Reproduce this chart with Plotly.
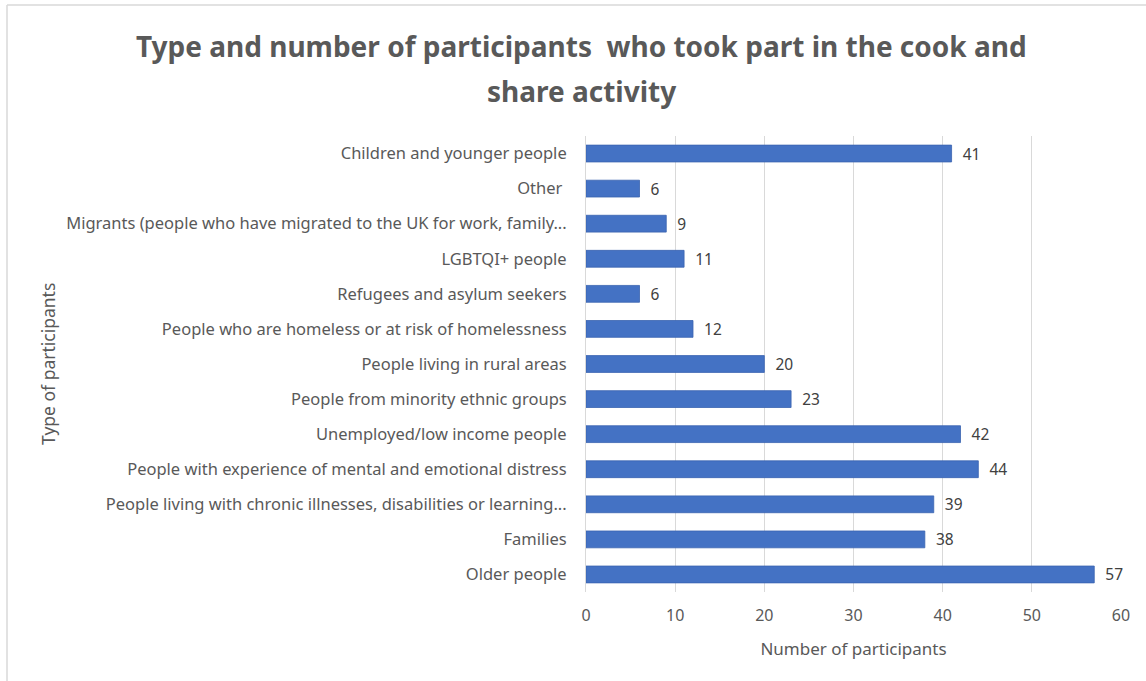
import plotly.graph_objects as go

# Participant groups, listed top to bottom as shown on the chart
categories = [
    "Children and younger people",
    "Other ",
    "Migrants (people who have migrated to the UK for work, family...",
    "LGBTQI+ people",
    "Refugees and asylum seekers",
    "People who are homeless or at risk of homelessness",
    "People living in rural areas",
    "People from minority ethnic groups",
    "Unemployed/low income people",
    "People with experience of mental and emotional distress",
    "People living with chronic illnesses, disabilities or learning...",
    "Families",
    "Older people",
]
participants = [41, 6, 9, 11, 6, 12, 20, 23, 42, 44, 39, 38, 57]
x_ticks = [0, 10, 20, 30, 40, 50, 60]
title_lines = [
    "Type and number of participants  who took part in the cook and",
    "share activity",
]

TEXT = "#595959"
FONT = "Noto Sans"

# plot area in pixels, used to place the free-floating texts
PL, PR, PT, PB = 586, 1121, 136, 592


def px_x(x):
    return (x - PL) / (PR - PL)


def px_y(y):
    return (PB - y) / (PB - PT)


fig = go.Figure(
    go.Bar(
        x=participants,
        y=categories,
        orientation="h",
        marker=dict(color="#4472C4", line=dict(color="#3A63B0", width=0.8)),
        texttemplate="  %{x}",
        textposition="outside",
        constraintext="none",
        textfont=dict(family=FONT, size=15.5, color="#404040"),
        cliponaxis=False,
        hoverinfo="x+y",
    )
)

annotations = [
    dict(
        text="Type of participants",
        xref="paper", yref="paper",
        x=px_x(48), y=0.5,
        xanchor="center", yanchor="middle",
        textangle=-90, showarrow=False,
        font=dict(family=FONT, size=17.5, color=TEXT),
    )
]
for line, yc in zip(title_lines, [46, 91]):
    annotations.append(
        dict(
            text="<b>" + line + "</b>",
            xref="paper", yref="paper",
            x=px_x(581), y=px_y(yc),
            xanchor="center", yanchor="middle",
            showarrow=False,
            font=dict(family=FONT, size=28, color=TEXT),
        )
    )

fig.update_layout(
    width=1146,
    height=681,
    margin=dict(l=PL, r=1146 - PR, t=PT, b=681 - PB),
    paper_bgcolor="white",
    plot_bgcolor="white",
    showlegend=False,
    bargap=0.52,
    font=dict(family=FONT, color=TEXT),
    xaxis=dict(
        range=[0, 60],
        tickvals=x_ticks,
        showgrid=True,
        gridcolor="#d9d9d9",
        gridwidth=1,
        zeroline=False,
        showline=False,
        tickfont=dict(family=FONT, size=16, color=TEXT),
        ticks="",
        ticklabelstandoff=12,
        title=dict(text="Number of participants", font=dict(family=FONT, size=17, color=TEXT), standoff=18),
        fixedrange=True,
    ),
    yaxis=dict(
        autorange="reversed",
        showline=True,
        linecolor="#d9d9d9",
        linewidth=1,
        ticks="",
        ticklabelstandoff=15,
        tickfont=dict(family=FONT, size=16.5, color=TEXT),
        fixedrange=True,
    ),
    annotations=annotations,
    shapes=[
        # outer chart frame (left and top edges)
        dict(type="line", xref="paper", yref="paper",
             x0=px_x(7), x1=px_x(7), y0=px_y(681), y1=px_y(5),
             line=dict(color="#d9d9d9", width=1.5)),
        dict(type="line", xref="paper", yref="paper",
             x0=px_x(7), x1=px_x(1146), y0=px_y(5), y1=px_y(5),
             line=dict(color="#d9d9d9", width=1.5)),
    ],
)

fig.write_html("out.html")
